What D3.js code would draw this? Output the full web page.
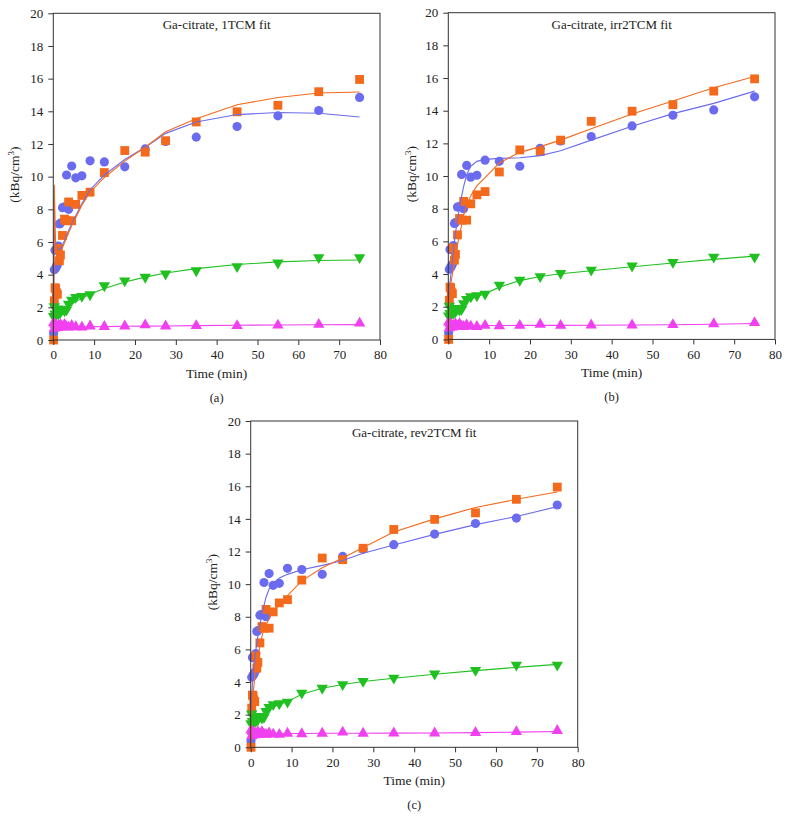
<!DOCTYPE html>
<html><head><meta charset="utf-8">
<script src="https://cdn.jsdelivr.net/npm/d3@7"></script>
<style>body{margin:0;background:#fff}svg{display:block}</style>
</head><body>
<svg id="chart" width="789" height="832"></svg>
<script>
// ---- data ----
const times = [0.08,0.25,0.42,0.58,0.75,1.0,1.25,1.5,1.75,2.25,2.75,3.25,3.75,4.5,5.5,7,9,12.5,17.5,22.5,27.5,35,45,55,65,75];
const blueData    = [0.4,4.3,5.5,4.4,4.5,4.6,5.75,7.1,7.15,8.1,8.15,10.1,8.0,10.65,9.93,10.05,10.97,10.9,10.6,11.7,12.15,12.42,13.07,13.72,14.05,14.85];
const orangeData  = [0,2.4,3.2,3.15,2.9,2.8,5.6,4.85,5.2,6.4,7.4,7.3,8.45,7.3,8.3,8.85,9.05,10.25,11.6,11.5,12.2,13.35,13.97,14.37,15.2,15.95];
const greenData   = [1.45,2.05,1.6,1.9,1.55,1.9,1.6,1.85,1.7,1.9,1.8,1.85,2.2,2.45,2.62,2.68,2.78,3.33,3.63,3.85,4.05,4.25,4.5,4.72,5.05,5.05];
const magentaData = [1.05,0.7,0.95,0.8,0.9,0.75,0.85,0.8,0.95,0.8,0.95,0.8,0.78,0.88,0.8,0.78,0.85,0.82,0.85,0.92,0.85,0.87,0.87,0.9,0.95,1.02];

// fits: 1TCM (a)
const blueFitA    = [0.3,9.2,6.5,5.9,5.7,5.6,5.55,5.55,5.6,5.8,6.1,6.4,6.7,7.1,7.6,8.35,9.2,10.1,11.05,11.8,12.65,13.35,13.8,13.93,13.88,13.65];
const orangeFitA  = [0.2,9.5,6.8,6.0,5.7,5.5,5.4,5.4,5.45,5.65,5.95,6.25,6.55,7.0,7.5,8.25,9.05,9.95,10.95,11.8,12.75,13.55,14.4,14.85,15.12,15.18];
const greenFitA   = [1.3,1.9,1.75,1.7,1.7,1.7,1.72,1.75,1.78,1.85,1.92,2.0,2.08,2.2,2.35,2.55,2.8,3.15,3.55,3.85,4.1,4.37,4.62,4.78,4.87,4.9];
const magentaFitA = [1.0,1.0,0.85,0.8,0.78,0.78,0.78,0.78,0.78,0.79,0.79,0.79,0.8,0.8,0.8,0.81,0.81,0.82,0.84,0.85,0.86,0.88,0.9,0.92,0.93,0.94];
// fits: irr2TCM (b)
const blueFitB    = [0.5,2.5,3.5,3.9,4.25,4.8,5.4,6.0,6.5,7.3,8.1,8.75,9.35,10.1,10.6,10.9,11.02,11.08,11.12,11.25,11.55,12.2,13.05,13.82,14.45,15.2];
const orangeFitB  = [0.1,2.0,3.0,3.3,3.6,4.0,4.4,4.8,5.2,5.8,6.4,7.0,7.6,8.2,8.8,9.4,9.9,10.8,11.45,11.8,12.2,12.9,13.8,14.6,15.4,16.1];
const greenFitB   = [1.2,2.0,1.9,1.8,1.75,1.75,1.75,1.78,1.8,1.85,1.95,2.05,2.15,2.3,2.45,2.62,2.8,3.2,3.6,3.85,4.02,4.2,4.45,4.68,4.9,5.1];
const magentaFitB = [1.1,1.0,0.88,0.85,0.84,0.84,0.84,0.84,0.84,0.84,0.84,0.84,0.84,0.84,0.84,0.84,0.85,0.85,0.86,0.86,0.86,0.87,0.88,0.9,0.93,0.97];
// fits: rev2TCM (c)
const blueFitC    = [0.4,2.8,4.0,4.5,4.9,5.45,5.95,6.4,6.8,7.5,8.1,8.7,9.2,9.7,10.05,10.38,10.6,10.88,11.15,11.45,11.9,12.4,13.05,13.65,14.15,14.75];
const orangeFitC  = [0.1,2.0,2.9,3.3,3.7,4.3,4.8,5.2,5.55,6.2,6.8,7.2,7.5,7.9,8.3,8.75,9.3,10.2,11.0,11.6,12.25,13.2,14.0,14.7,15.2,15.65];
const greenFitC   = [1.3,2.0,1.9,1.8,1.75,1.75,1.75,1.78,1.8,1.85,1.95,2.05,2.15,2.3,2.45,2.62,2.8,3.25,3.62,3.85,4.03,4.23,4.48,4.7,4.9,5.08];
const magentaFitC = [1.1,1.0,0.88,0.85,0.84,0.84,0.84,0.84,0.84,0.84,0.84,0.84,0.84,0.84,0.84,0.84,0.85,0.85,0.86,0.86,0.86,0.87,0.88,0.9,0.93,0.97];

const titles = ["Ga-citrate, 1TCM fit","Ga-citrate, irr2TCM fit","Ga-citrate, rev2TCM fit"];
const letters = ["(a)","(b)","(c)"];
const xTicks = [0,10,20,30,40,50,60,70,80];
const yTicks = [0,2,4,6,8,10,12,14,16,18,20];

// ---- styles / layout ----
const FONT = "'Liberation Serif','Times New Roman','DejaVu Serif',serif";
const colors = {blue:"#6b6bef", orange:"#f46a1c", green:"#20c020", magenta:"#f040f0"};
const panels = [
  {x:53.3, y:13.3, w:326.7, h:326.7, fits:[blueFitA,orangeFitA,greenFitA,magentaFitA]},
  {x:448.3,y:12.7, w:326.7, h:326.7, fits:[blueFitB,orangeFitB,greenFitB,magentaFitB]},
  {x:250.7,y:421,  w:327,   h:326.3, fits:[blueFitC,orangeFitC,greenFitC,magentaFitC]}
];
const series = [
  {data:blueData, color:colors.blue, sym:d3.symbolCircle, size:66, rot:0},
  {data:orangeData, color:colors.orange, sym:d3.symbolSquare, size:78, rot:0},
  {data:greenData, color:colors.green, sym:d3.symbolTriangle, size:56, rot:180},
  {data:magentaData, color:colors.magenta, sym:d3.symbolTriangle, size:56, rot:0}
];

const svg = d3.select("#chart");

panels.forEach((p,i)=>{
  const g = svg.append("g").attr("transform",`translate(${p.x},${p.y})`);
  const x = d3.scaleLinear().domain([0,80]).range([0,p.w]);
  const y = d3.scaleLinear().domain([0,20]).range([p.h,0]);

  series.forEach(s=>{
    g.append("g").selectAll("path").data(s.data).join("path")
      .attr("d", d3.symbol().type(s.sym).size(s.size))
      .attr("transform",(d,k)=>`translate(${x(times[k])},${y(d)}) rotate(${s.rot})`)
      .attr("fill", s.color);
  });
  const line = d3.line().x((d,k)=>x(times[k])).y(d=>y(d));
  p.fits.forEach((f,k)=>{
    g.append("path").datum(f).attr("d",line).attr("fill","none")
      .attr("stroke",series[k].color).attr("stroke-width",1.1);
  });

  const xa = g.append("g").attr("transform",`translate(0,${p.h})`)
    .call(d3.axisBottom(x).tickValues(xTicks).tickSize(5).tickPadding(5).tickFormat(d3.format("d")));
  const ya = g.append("g")
    .call(d3.axisLeft(y).tickValues(yTicks).tickSize(5).tickPadding(5).tickFormat(d3.format("d")));
  [xa,ya].forEach(a=>{
    a.attr("font-family",null).attr("font-size",null);
    a.select(".domain").remove();
    a.selectAll("line").attr("stroke","#333");
    a.selectAll("text").attr("font-size",13).attr("fill","#222");
  });
  g.append("rect").attr("x",0).attr("y",0).attr("width",p.w).attr("height",p.h)
    .attr("fill","none").attr("stroke","#333").attr("stroke-width",1);

  g.append("text").attr("x",p.w/2).attr("y",16).attr("text-anchor","middle")
    .attr("font-size",13).text(titles[i]);
  g.append("text").attr("x",p.w/2).attr("y",p.h+38).attr("text-anchor","middle")
    .attr("font-size",13.5).text("Time (min)");
  g.append("text").attr("x",p.w/2).attr("y",p.h+62).attr("text-anchor","middle")
    .attr("font-size",12.5).text(letters[i]);
  const yl = g.append("text").attr("transform",`translate(${i===1?-32:-34},${p.h/2-2}) rotate(-90)`)
    .attr("text-anchor","middle").attr("font-size",13.5);
  yl.append("tspan").text("(kBq/cm");
  yl.append("tspan").attr("dy","-5").attr("font-size",9).text("3");
  yl.append("tspan").attr("dy","5").text(")");
});
svg.selectAll("text").attr("font-family",FONT).attr("fill","#222");
</script>
</body></html>
